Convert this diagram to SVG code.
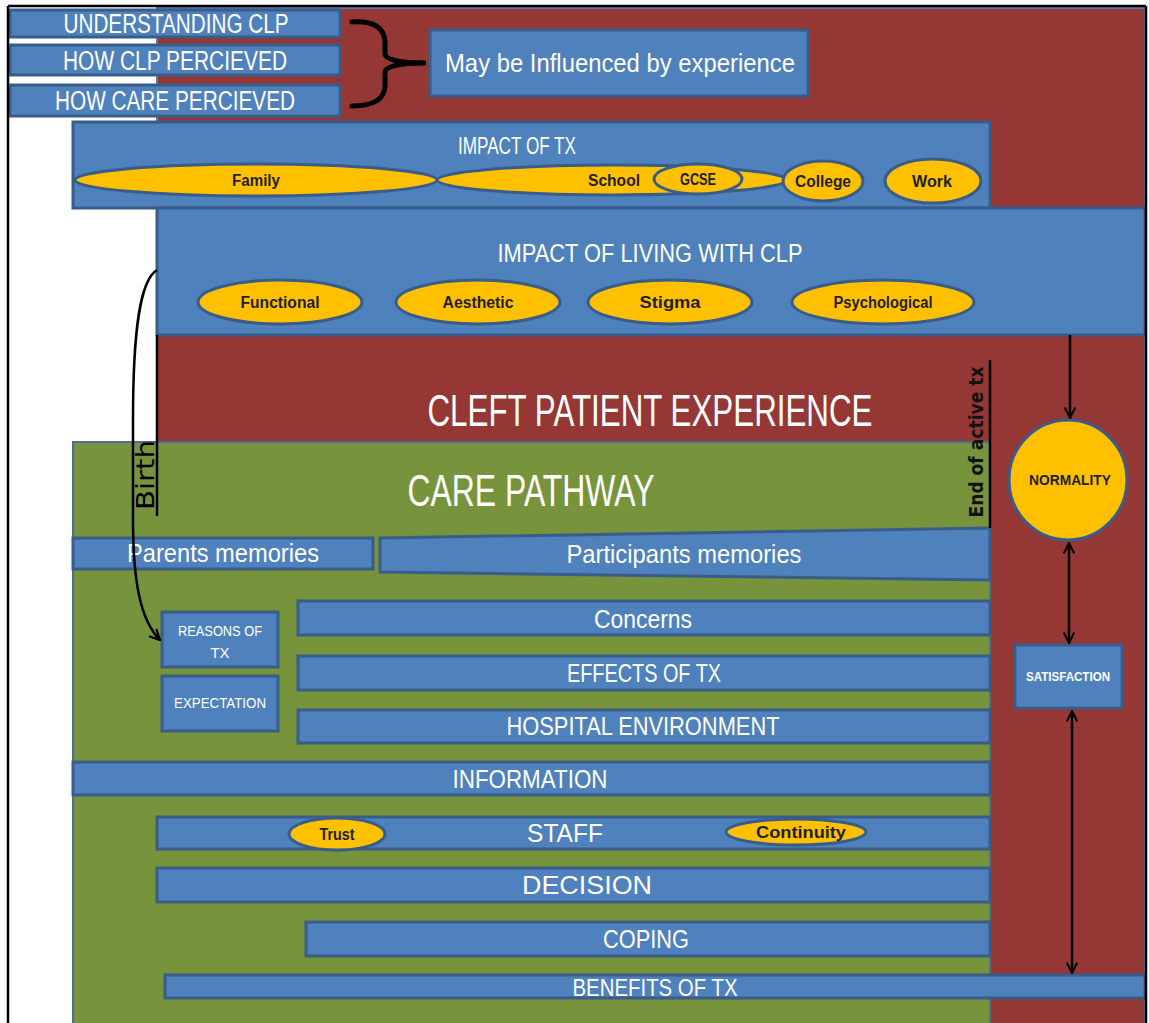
<svg xmlns="http://www.w3.org/2000/svg" width="1149" height="1023" viewBox="0 0 1149 1023">
<style>
.blue{fill:#4F81BD;stroke:#385D8A;stroke-width:3}
.red{fill:#953735;stroke:#5C7DA8;stroke-width:2}
.green{fill:#77933C;stroke:#4A6E95;stroke-width:2}
.yel{fill:#FFC000;stroke:#385D8A;stroke-width:3}
.wt{fill:#FFFFFF;font-family:"Liberation Sans",Arial,sans-serif;text-anchor:middle}
.dk{fill:#1F1F1F;font-family:"Liberation Sans",Arial,sans-serif;font-weight:bold;text-anchor:middle}
.conn{fill:none;stroke:#000;stroke-width:2.5}
.brace{fill:none;stroke:#000;stroke-width:5;stroke-linecap:round}
</style>
<defs>
<marker id="ah" viewBox="0 0 12 12" refX="11" refY="6" markerWidth="5" markerHeight="5" orient="auto-start-reverse" markerUnits="strokeWidth">
<path d="M1,1 L11,6 L1,11" fill="none" stroke="#000" stroke-width="2"/>
</marker>
</defs>
<rect x="0" y="0" width="1149" height="1023" fill="#FFFFFF"/>
<g id="background">
<rect class="red" x="157" y="8" width="988" height="1020"/>
<rect class="green" x="73" y="442" width="917" height="590"/>
</g>
<g id="top-items">
<g id="understanding-clp"><rect class="blue" x="10" y="10" width="330" height="27"/><text class="wt" x="176" y="33" font-size="27" textLength="225" lengthAdjust="spacingAndGlyphs">UNDERSTANDING CLP</text></g>
<g id="how-clp-percieved"><rect class="blue" x="10" y="45" width="330" height="30"/><text class="wt" x="175" y="70" font-size="27" textLength="224" lengthAdjust="spacingAndGlyphs">HOW CLP PERCIEVED</text></g>
<g id="how-care-percieved"><rect class="blue" x="10" y="85" width="330" height="31"/><text class="wt" x="175" y="110" font-size="27" textLength="240" lengthAdjust="spacingAndGlyphs">HOW CARE PERCIEVED</text></g>
<g id="influenced"><rect class="blue" x="430" y="30" width="378" height="66"/><text class="wt" x="620" y="72" font-size="26" textLength="350" lengthAdjust="spacingAndGlyphs">May be Influenced by experience</text></g>
</g>
<g id="impact-of-tx">
<rect class="blue" x="73" y="122" width="917" height="86"/>
<text class="wt" x="517" y="154" font-size="24" textLength="118" lengthAdjust="spacingAndGlyphs">IMPACT OF TX</text>
<g id="family"><ellipse class="yel" cx="256" cy="180" rx="181" ry="16"/><text class="dk" x="256" y="186" font-size="16" textLength="48" lengthAdjust="spacingAndGlyphs">Family</text></g>
<g id="school"><ellipse class="yel" cx="612" cy="180" rx="175" ry="15"/><text class="dk" x="614" y="186" font-size="16" textLength="52" lengthAdjust="spacingAndGlyphs">School</text></g>
<g id="gcse"><ellipse class="yel" cx="698" cy="179" rx="44" ry="15"/><text class="dk" x="698" y="185" font-size="16" textLength="36" lengthAdjust="spacingAndGlyphs">GCSE</text></g>
<g id="college"><ellipse class="yel" cx="823" cy="181" rx="40" ry="20"/><text class="dk" x="823" y="187" font-size="16" textLength="56" lengthAdjust="spacingAndGlyphs">College</text></g>
<g id="work"><ellipse class="yel" cx="933" cy="181" rx="48" ry="22"/><text class="dk" x="932" y="187" font-size="16" textLength="40" lengthAdjust="spacingAndGlyphs">Work</text></g>
</g>
<g id="impact-of-living">
<rect class="blue" x="157" y="208" width="988" height="127"/>
<text class="wt" x="650" y="262" font-size="26" textLength="305" lengthAdjust="spacingAndGlyphs">IMPACT OF LIVING WITH CLP</text>
<g id="functional"><ellipse class="yel" cx="280" cy="302" rx="82" ry="22"/><text class="dk" x="280" y="308" font-size="16" textLength="79" lengthAdjust="spacingAndGlyphs">Functional</text></g>
<g id="aesthetic"><ellipse class="yel" cx="478" cy="302" rx="82" ry="22"/><text class="dk" x="478" y="308" font-size="16" textLength="71" lengthAdjust="spacingAndGlyphs">Aesthetic</text></g>
<g id="stigma"><ellipse class="yel" cx="670" cy="302" rx="82" ry="22"/><text class="dk" x="670" y="308" font-size="16" textLength="61" lengthAdjust="spacingAndGlyphs">Stigma</text></g>
<g id="psychological"><ellipse class="yel" cx="883" cy="302" rx="91" ry="22"/><text class="dk" x="883" y="308" font-size="16" textLength="99" lengthAdjust="spacingAndGlyphs">Psychological</text></g>
</g>
<g id="cleft-patient-experience">
<text class="wt" x="650" y="426" font-size="44" textLength="445" lengthAdjust="spacingAndGlyphs">CLEFT PATIENT EXPERIENCE</text>
</g>
<g id="care-pathway">
<text class="wt" x="531" y="506" font-size="44" textLength="247" lengthAdjust="spacingAndGlyphs">CARE PATHWAY</text>
</g>
<g id="parents-memories"><rect class="blue" x="73" y="538" width="300" height="31"/><text class="wt" x="223" y="562" font-size="26" textLength="192" lengthAdjust="spacingAndGlyphs">Parents memories</text></g>
<g id="participants-memories"><polygon class="blue" points="380,538 990,528 990,580 380,572"/><text class="wt" x="684" y="563" font-size="26" textLength="235" lengthAdjust="spacingAndGlyphs">Participants memories</text></g>
<g id="reasons-of-tx"><rect class="blue" x="162" y="612" width="116" height="55"/><text class="wt" x="220" y="636" font-size="14" textLength="84" lengthAdjust="spacingAndGlyphs">REASONS OF</text><text class="wt" x="220" y="658" font-size="14" textLength="19" lengthAdjust="spacingAndGlyphs">TX</text></g>
<g id="expectation"><rect class="blue" x="162" y="676" width="116" height="55"/><text class="wt" x="220" y="708" font-size="14" textLength="92" lengthAdjust="spacingAndGlyphs">EXPECTATION</text></g>
<g id="concerns"><rect class="blue" x="298" y="601" width="692" height="34"/><text class="wt" x="643" y="628" font-size="26" textLength="98" lengthAdjust="spacingAndGlyphs">Concerns</text></g>
<g id="effects-of-tx"><rect class="blue" x="298" y="656" width="692" height="34"/><text class="wt" x="644" y="682" font-size="26" textLength="154" lengthAdjust="spacingAndGlyphs">EFFECTS OF TX</text></g>
<g id="hospital-environment"><rect class="blue" x="298" y="710" width="692" height="33"/><text class="wt" x="643" y="735" font-size="26" textLength="273" lengthAdjust="spacingAndGlyphs">HOSPITAL ENVIRONMENT</text></g>
<g id="information"><rect class="blue" x="73" y="762" width="917" height="33"/><text class="wt" x="530" y="788" font-size="26" textLength="155" lengthAdjust="spacingAndGlyphs">INFORMATION</text></g>
<g id="staff"><rect class="blue" x="157" y="817" width="833" height="32"/><text class="wt" x="565" y="842" font-size="26" textLength="76" lengthAdjust="spacingAndGlyphs">STAFF</text>
<g id="trust"><ellipse class="yel" cx="337" cy="834" rx="48" ry="16"/><text class="dk" x="337" y="840" font-size="16" textLength="35" lengthAdjust="spacingAndGlyphs">Trust</text></g>
<g id="continuity"><ellipse class="yel" cx="796" cy="832" rx="70" ry="13"/><text class="dk" x="801" y="838" font-size="16" textLength="90" lengthAdjust="spacingAndGlyphs">Continuity</text></g>
</g>
<g id="decision"><rect class="blue" x="157" y="868" width="833" height="34"/><text class="wt" x="587" y="894" font-size="26" textLength="130" lengthAdjust="spacingAndGlyphs">DECISION</text></g>
<g id="coping"><rect class="blue" x="306" y="922" width="684" height="34"/><text class="wt" x="646" y="948" font-size="26" textLength="86" lengthAdjust="spacingAndGlyphs">COPING</text></g>
<g id="benefits-of-tx"><rect class="blue" x="165" y="975" width="980" height="23"/><text class="wt" x="655" y="996" font-size="24" textLength="165" lengthAdjust="spacingAndGlyphs">BENEFITS OF TX</text></g>
<g id="normality"><ellipse class="yel" cx="1068" cy="480" rx="59" ry="60"/><text class="dk" x="1070" y="485" font-size="14" textLength="82" lengthAdjust="spacingAndGlyphs">NORMALITY</text></g>
<g id="satisfaction"><rect class="blue" x="1015" y="645" width="107" height="63"/><text class="wt" x="1068" y="681" font-size="13" font-weight="bold" textLength="84" lengthAdjust="spacingAndGlyphs">SATISFACTION</text></g>
<g id="birth-marker">
<line x1="157" y1="335" x2="157" y2="516" stroke="#000" stroke-width="2.5"/>
<text x="154" y="475" transform="rotate(-90 154 475)" font-family="DejaVu Sans,sans-serif" font-size="24" fill="#000" text-anchor="middle" textLength="70" lengthAdjust="spacingAndGlyphs">Birth</text>
</g>
<g id="end-of-active-tx">
<line x1="990" y1="360" x2="990" y2="528" stroke="#000" stroke-width="2.5"/>
<text x="983" y="442" transform="rotate(-90 983 442)" font-family="DejaVu Sans,sans-serif" font-weight="bold" font-size="19" fill="#111" text-anchor="middle" textLength="151" lengthAdjust="spacingAndGlyphs">End of active tx</text>
</g>
<g id="connectors">
<path class="brace" d="M352,22 Q384,20 385,42 L385,54 Q386,63 426,63 Q386,63 385,72 L385,86 Q384,106 352,106"/>
<path class="conn" d="M157,270 C140,280 133,330 133,420 L133,520 C133,580 140,620 160,640" marker-end="url(#ah)"/>
<line class="conn" x1="1070" y1="335" x2="1070" y2="418" marker-end="url(#ah)"/>
<line class="conn" x1="1069" y1="543" x2="1069" y2="643" marker-start="url(#ah)" marker-end="url(#ah)"/>
<line class="conn" x1="1072" y1="711" x2="1072" y2="973" marker-start="url(#ah)" marker-end="url(#ah)"/>
</g>
<g id="frame" fill="none" stroke="#000" stroke-width="2.5">
<line x1="8" y1="6" x2="1146" y2="6"/>
<line x1="8" y1="6" x2="8" y2="1023"/>
<line x1="1146" y1="6" x2="1146" y2="1023"/>
</g>
</svg>
